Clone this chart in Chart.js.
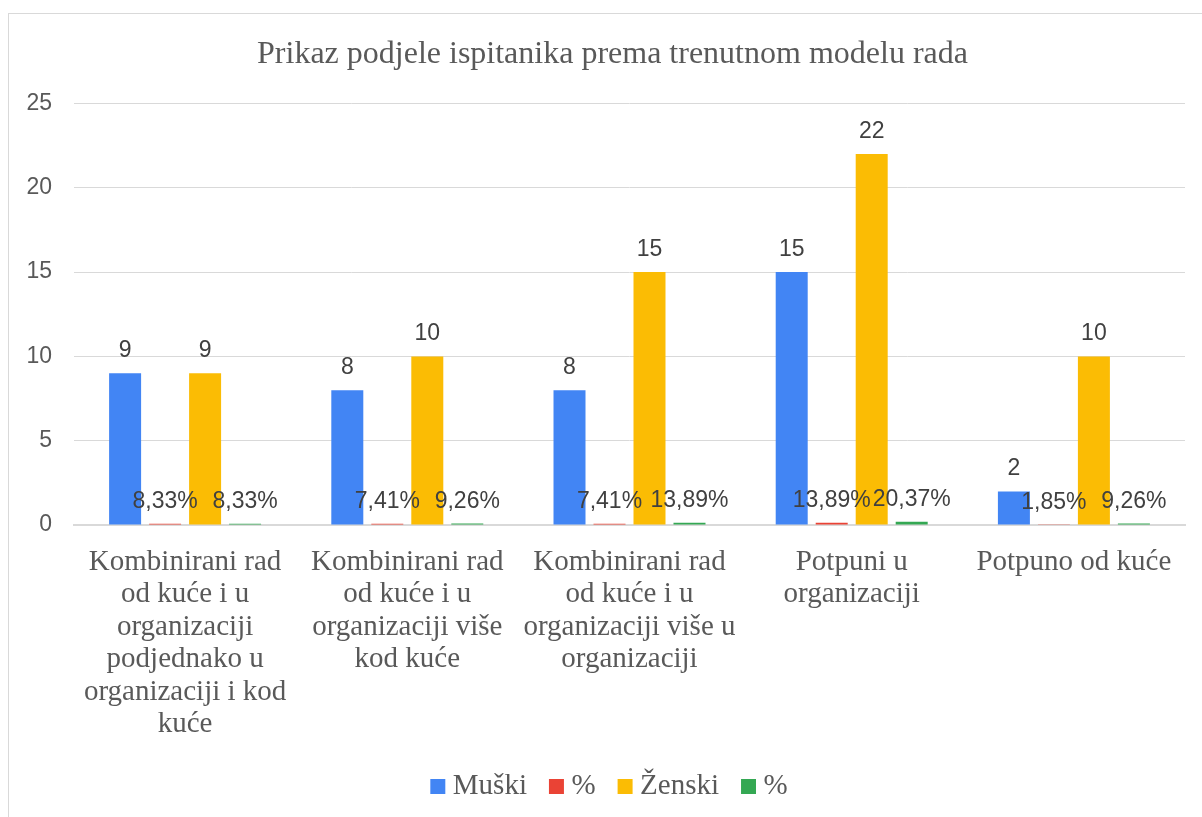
<!DOCTYPE html>
<html>
<head>
<meta charset="utf-8">
<script src="https://cdn.jsdelivr.net/npm/chart.js@4/dist/chart.umd.min.js"></script>
<style>
  body { margin: 0; background: #fff; overflow: hidden; }
  #wrap { position: absolute; left: 8px; top: 13px; width: 1212px; height: 804px; border-left: 1px solid #d9d9d9; border-top: 1px solid #d9d9d9; box-sizing: border-box; }
</style>
</head>
<body>
<div id="wrap"><canvas id="myChart"></canvas></div>
<script>
const categories = [
  ["Kombinirani rad", "od kuće i u", "organizaciji", "podjednako u", "organizaciji i kod", "kuće"],
  ["Kombinirani rad", "od kuće i u", "organizaciji više", "kod kuće"],
  ["Kombinirani rad", "od kuće i u", "organizaciji više u", "organizaciji"],
  ["Potpuni u", "organizaciji"],
  ["Potpuno od kuće"]
];
const muski = [9, 8, 8, 15, 2];
const muskiPct = [0.0833, 0.0741, 0.0741, 0.1389, 0.0185];
const zenski = [9, 10, 15, 22, 10];
const zenskiPct = [0.0833, 0.0926, 0.1389, 0.2037, 0.0926];
const yTicks = [0, 5, 10, 15, 20, 25];

const ctx = document.getElementById('myChart');
const serif = '"Liberation Serif", "Times New Roman", serif';
const sans = '"Liberation Sans", Arial, sans-serif';

// draws the value above each bar
const valueLabels = {
  id: 'valueLabels',
  afterDatasetsDraw(chart) {
    const c = chart.ctx;
    c.save();
    c.font = '23px ' + sans;
    c.fillStyle = '#404040';
    c.textAlign = 'center';
    c.textBaseline = 'alphabetic';
    chart.data.datasets.forEach((ds, i) => {
      const meta = chart.getDatasetMeta(i);
      meta.data.forEach((bar, j) => {
        const v = ds.data[j];
        let txt = ds.isPct ? (v * 100).toFixed(2).replace('.', ',') + '%' : String(v);
        c.fillText(txt, bar.x, bar.y - 16);
      });
    });
    c.restore();
  }
};

new Chart(ctx, {
  type: 'bar',
  data: {
    labels: categories,
    datasets: [
      { label: 'Muški', data: muski, backgroundColor: '#4285f4' },
      { label: '%', data: muskiPct, backgroundColor: '#ea4335', isPct: true },
      { label: 'Ženski', data: zenski, backgroundColor: '#fbbc04' },
      { label: '%', data: zenskiPct, backgroundColor: '#34a853', isPct: true }
    ]
  },
  options: {
    responsive: true,
    maintainAspectRatio: false,
    animation: false,
    layout: { padding: { left: 18, right: 22, top: 0, bottom: 6 } },
    datasets: { bar: { categoryPercentage: 0.72, barPercentage: 0.8 } },
    plugins: {
      title: {
        display: true,
        text: 'Prikaz podjele ispitanika prema trenutnom modelu rada',
        color: '#595959',
        font: { family: serif, size: 32, weight: 'normal' },
        padding: { top: 21, bottom: 30 }
      },
      legend: {
        position: 'bottom',
        labels: {
          color: '#595959',
          font: { family: serif, size: 29 },
          usePointStyle: true, pointStyle: 'rect',
          boxWidth: 1, boxHeight: 15, padding: 29
        }
      },
      tooltip: { enabled: false }
    },
    scales: {
      x: {
        grid: { display: false },
        border: { color: '#d9d9d9', width: 2 },
        ticks: {
          color: '#595959', autoSkip: false, maxRotation: 0, padding: 13,
          font: { family: serif, size: 29, lineHeight: 1.12 }
        },
        afterFit(scale) {
          scale.paddingLeft = 0;
          scale.paddingRight = 35;
          scale.height -= 11;
        }
      },
      y: {
        min: 0, max: 25,
        afterBuildTicks(axis) { axis.ticks = yTicks.map(v => ({ value: v })); },
        afterFit(scale) { scale.width = 47; },
        grid: { color: '#d9d9d9', drawTicks: false },
        border: { display: false },
        ticks: {
          color: '#595959', padding: 22,
          font: { family: sans, size: 23 }
        }
      }
    }
  },
  plugins: [valueLabels]
});
</script>
</body>
</html>
